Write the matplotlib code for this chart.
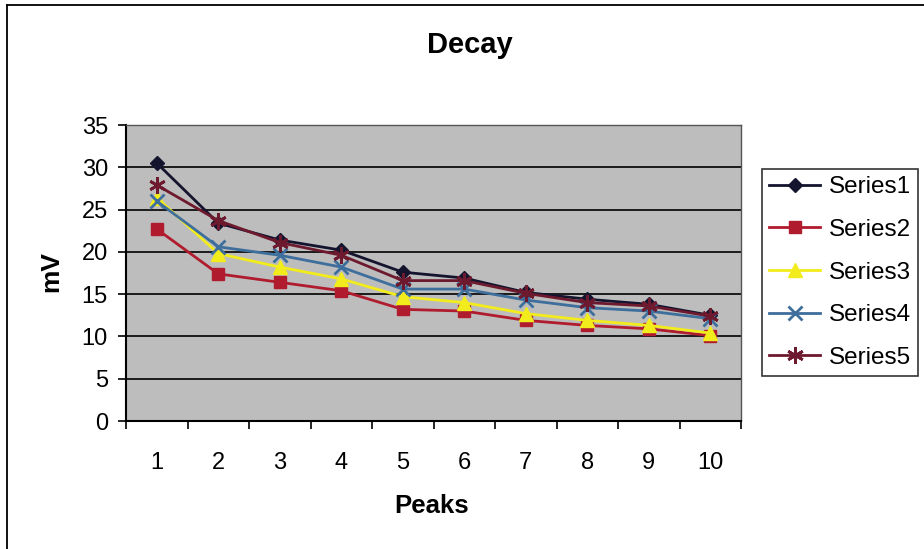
import matplotlib
matplotlib.use("Agg")
import matplotlib.pyplot as plt
from matplotlib.lines import Line2D

plt.rcParams['font.family'] = ['Liberation Sans', 'DejaVu Sans']

peaks = [1, 2, 3, 4, 5, 6, 7, 8, 9, 10]
series1 = [30.5, 23.4, 21.4, 20.2, 17.6, 16.9, 15.2, 14.4, 13.8, 12.5]
series2 = [22.7, 17.4, 16.4, 15.4, 13.2, 13.0, 11.9, 11.3, 10.9, 10.1]
series3 = [26.4, 19.8, 18.2, 16.8, 14.7, 14.0, 12.7, 11.9, 11.3, 10.4]
series4 = [26.0, 20.6, 19.6, 18.2, 15.6, 15.6, 14.3, 13.4, 13.0, 12.1]
series5 = [27.9, 23.7, 21.1, 19.6, 16.6, 16.6, 15.1, 14.0, 13.6, 12.4]
names = ["Series1", "Series2", "Series3", "Series4", "Series5"]
yticks = [0, 5, 10, 15, 20, 25, 30, 35]

W, H = 924, 549
fig = plt.figure(figsize=(9.24, 5.49), dpi=100)
fig.patch.set_facecolor('white')
# outer chart frame (left and top edges visible)
fig.add_artist(Line2D([7/W, 7/W], [0, 1 - 5/H], transform=fig.transFigure, color='black', linewidth=1.3))
fig.add_artist(Line2D([7/W, 1], [1 - 5/H, 1 - 5/H], transform=fig.transFigure, color='black', linewidth=1.3))

ax = fig.add_axes([126/W, (H-421)/H, 615/W, 296/H])
ax.set_facecolor('#bdbdbd')

styles = [
    dict(color='#14142e', marker='D', markersize=7),
    dict(color='#b01c2e', marker='s', markersize=9),
    dict(color='#f2ec1c', marker='^', markersize=10),
    dict(color='#3e6e9c', marker='x', markersize=10, markeredgewidth=2),
    dict(color='#6e1a2e', marker=(6, 2, 0), markersize=12, markeredgewidth=2),
]
data = [series1, series2, series3, series4, series5]
for vals, nm, st in zip(data, names, styles):
    ax.plot(peaks, vals, linewidth=2, label=nm, **st)

ax.set_xlim(0.5, 10.5)
ax.set_ylim(0, 35)
ax.set_yticks(yticks)
ax.yaxis.grid(True, color='black', linewidth=1.2)
ax.set_axisbelow(True)
ax.set_xticks(peaks)
ax.set_xticks([p - 0.5 for p in peaks] + [10.5], minor=True)
ax.tick_params(axis='x', which='major', length=0, labelsize=17, pad=22)
ax.tick_params(axis='x', which='minor', length=6, width=1.2, direction='out')
ax.tick_params(axis='y', labelsize=17, length=6, width=1.2, direction='out', pad=7)
for s in ['top', 'right']:
    ax.spines[s].set_color('#555555')
    ax.spines[s].set_linewidth(1)
for s in ['left', 'bottom']:
    ax.spines[s].set_color('black')
    ax.spines[s].set_linewidth(1.5)

fig.text(470/W, 1 - 45/H, "Decay", ha='center', va='center', fontsize=21, fontweight='bold')
fig.text(51/W, 1 - 272/H, "mV", ha='center', va='center', fontsize=19, fontweight='bold', rotation=90)
fig.text(432/W, 1 - 506/H, "Peaks", ha='center', va='center', fontsize=18.5, fontweight='bold')

leg = fig.legend(loc='upper left', bbox_to_anchor=(762/W, 1 - 169/H), fontsize=17.5,
                 frameon=True, fancybox=False, edgecolor='black', handlelength=2.1,
                 handletextpad=0.35, labelspacing=0.85, borderpad=0.3, borderaxespad=0)
leg.get_frame().set_linewidth(1.2)

fig.savefig("out.png", dpi=100)
